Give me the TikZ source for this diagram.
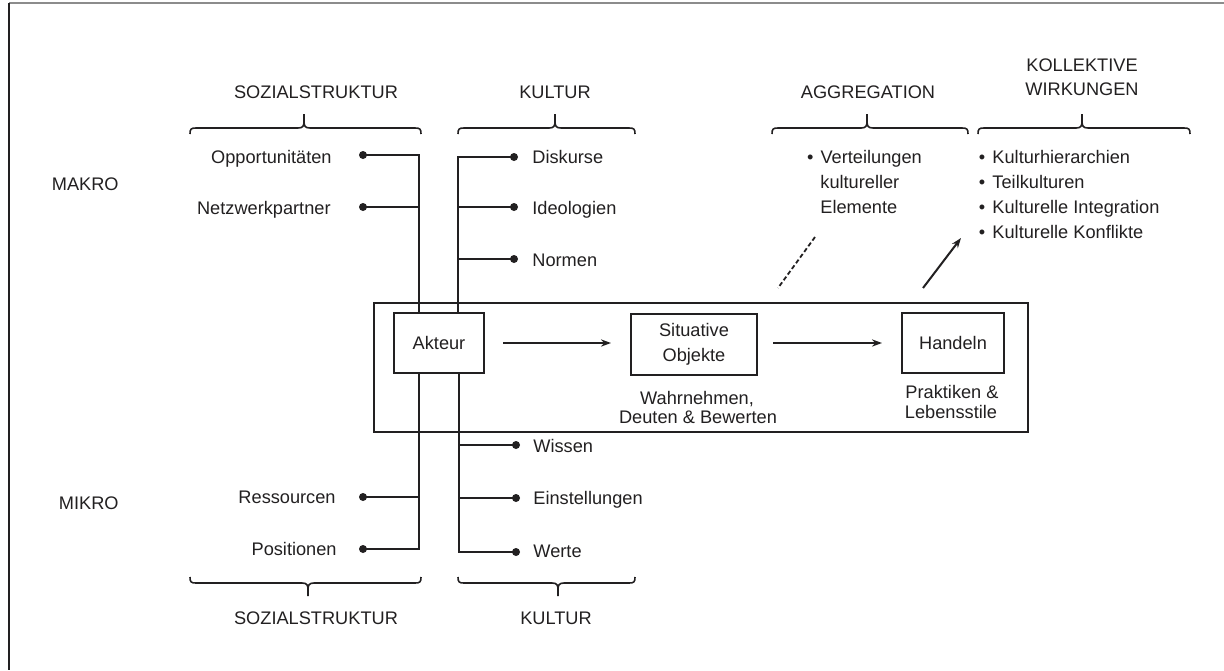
\documentclass[tikz,border=0pt]{standalone}
\usepackage{fontspec}
\setmainfont{Liberation Sans}
\usetikzlibrary{arrows.meta}
\definecolor{ink}{RGB}{34,32,33}
\newcommand\mytopbrace[3]{%
  \draw[brc] (#1,134) .. controls (#1,129) and (#1+1,128) .. (#1+6,128) -- (#2-6,128) .. controls (#2-1,128) and (#2,126) .. (#2,121) -- (#2,114);
  \draw[brc] (#2,121) .. controls (#2,126) and (#2+1,128) .. (#2+6,128) -- (#3-6,128) .. controls (#3-1,128) and (#3,129) .. (#3,134);}
\newcommand\mybotbrace[3]{%
  \draw[brc] (#1,577) .. controls (#1,582) and (#1+1,583) .. (#1+6,583) -- (#2-6,583) .. controls (#2-1,583) and (#2,585) .. (#2,590) -- (#2,596);
  \draw[brc] (#2,590) .. controls (#2,585) and (#2+1,583) .. (#2+6,583) -- (#3-6,583) .. controls (#3-1,583) and (#3,582) .. (#3,577);}
\begin{document}
\begin{tikzpicture}[x=0.5pt,y=-0.5pt,
  ln/.style={line width=1pt, draw=ink},
  txt/.style={inner sep=0pt, text height=6.5pt, text depth=0pt, font=\fontsize{9.1}{11}\selectfont, text=ink},
  dotn/.style={circle, fill=ink, inner sep=0pt, minimum size=4pt},
  boxn/.style={draw=ink, line width=1pt, inner sep=0pt, font=\fontsize{9.1}{12.5}\selectfont, text=ink, align=center},
  brc/.style={line width=0.8pt, draw=ink},
  arr/.style={ln, -{Stealth[length=5pt,width=3.6pt]}}]
\useasboundingbox (0,0) rectangle (1224,670);
\fill[white] (0,0) rectangle (1224,670);
% page frame
\draw[line width=1pt, black!45] (9,3) -- (1224,3);
\draw[line width=1pt, ink] (9,3) -- (9,670);

% level labels
\node[txt, anchor=east] (makro) at (119,184) {MAKRO};
\node[txt, anchor=east] (mikro) at (119,503) {MIKRO};

% titles
\node[txt] (tSozTop) at (316,92) {SOZIALSTRUKTUR};
\node[txt] (tKulTop) at (555,92) {KULTUR};
\node[txt] (tAgg) at (868,92) {AGGREGATION};
\node[txt] (tKol1) at (1082,65) {KOLLEKTIVE};
\node[txt] (tKol2) at (1082,89) {WIRKUNGEN};
\node[txt] (tSozBot) at (316,618) {SOZIALSTRUKTUR};
\node[txt] (tKulBot) at (556,618) {KULTUR};

% braces
\mytopbrace{190}{304}{421}
\mytopbrace{458}{555}{635}
\mytopbrace{772}{867}{968}
\mytopbrace{978}{1082}{1190}
\mybotbrace{190}{308}{421}
\mybotbrace{458}{558}{635}

% frame box and boxes
\node[boxn, minimum width=327pt, minimum height=64.5pt] (frame) at (701,367.5) {};
\node[boxn, minimum width=45pt, minimum height=30pt] (akteur) at (439,343) {Akteur};
\node[boxn, minimum width=63pt, minimum height=30.5pt] (situ) at (694,344.5) {Situative\\Objekte};
\node[boxn, minimum width=51pt, minimum height=30pt] (handeln) at (953,343) {Handeln};

\node[txt] (wahr1) at (697,398) {Wahrnehmen,};
\node[txt] (wahr2) at (698,417) {Deuten \& Bewerten};
\node[txt] (prak1) at (952,392) {Praktiken \&};
\node[txt] (prak2) at (951,412) {Lebensstile};

\draw[arr, shorten <=9pt, shorten >=9.5pt] (akteur.east) -- (situ.west |- akteur.east);
\draw[arr, shorten <=7.5pt, shorten >=9.5pt] (situ.east |- handeln.west) -- (handeln.west);

% junction coordinates on Akteur
\coordinate (aL) at (419,313);
\coordinate (aR) at (458,313);
\coordinate (bL) at (419,373);
\coordinate (bR) at (459,373);

% left items
\node[dotn] (dOpp) at (363,155) {};
\node[txt, anchor=east] (tOpp) at (332,157) {Opportunitäten};
\node[dotn] (dNet) at (363,207) {};
\node[txt, anchor=east] (tNet) at (331,208) {Netzwerkpartner};
\node[dotn] (dRes) at (363,497) {};
\node[txt, anchor=east] (tRes) at (336,497) {Ressourcen};
\node[dotn] (dPos) at (363,549) {};
\node[txt, anchor=east] (tPos) at (337,549) {Positionen};

% right items
\node[dotn] (dDis) at (514,157) {};
\node[txt, anchor=west] (tDis) at (532,157) {Diskurse};
\node[dotn] (dIde) at (514,207) {};
\node[txt, anchor=west] (tIde) at (532,208) {Ideologien};
\node[dotn] (dNor) at (514,259) {};
\node[txt, anchor=west] (tNor) at (532,260) {Normen};
\node[dotn] (dWis) at (516,445) {};
\node[txt, anchor=west] (tWis) at (533,446) {Wissen};
\node[dotn] (dEin) at (516,498) {};
\node[txt, anchor=west] (tEin) at (533,498) {Einstellungen};
\node[dotn] (dWer) at (516,552) {};
\node[txt, anchor=west] (tWer) at (533,551) {Werte};

% connectors
\draw[ln] (dOpp.center) -| (aL);
\draw[ln] (dNet.center) -- (dNet -| aL);
\draw[ln] (dPos.center) -| (bL);
\draw[ln] (dRes.center) -- (dRes -| bL);
\draw[ln] (dDis.center) -| (aR);
\draw[ln] (dIde.center) -- (dIde -| aR);
\draw[ln] (dNor.center) -- (dNor -| aR);
\draw[ln] (dWer.center) -| (bR);
\draw[ln] (dWis.center) -- (dWis -| bR);
\draw[ln] (dEin.center) -- (dEin -| bR);

% aggregation list
\node[txt, anchor=west] (v1) at (806.8,157) {•\hspace{3.5pt}Verteilungen};
\node[txt, anchor=west] (v2) at (820,182) {kultureller};
\node[txt, anchor=west] (v3) at (820,207) {Elemente};
% collective effects list
\node[txt, anchor=west] (k1) at (978.5,157) {•\hspace{3.6pt}Kulturhierarchien};
\node[txt, anchor=west] (k2) at (978.5,182) {•\hspace{3.6pt}Teilkulturen};
\node[txt, anchor=west] (k3) at (978.5,207) {•\hspace{3.6pt}Kulturelle Integration};
\node[txt, anchor=west] (k4) at (978.5,232) {•\hspace{3.6pt}Kulturelle Konflikte};

% dashed and arrow links
\coordinate (dA) at (815,237);
\coordinate (dB) at (778,288);
\draw[ln, line width=0.9pt, dash pattern=on 2.2pt off 1.3pt] (dA) -- (dB);
\coordinate (eA) at (923,288);
\coordinate (eB) at (961,238);
\draw[arr] (eA) -- (eB);
\end{tikzpicture}
\end{document}
